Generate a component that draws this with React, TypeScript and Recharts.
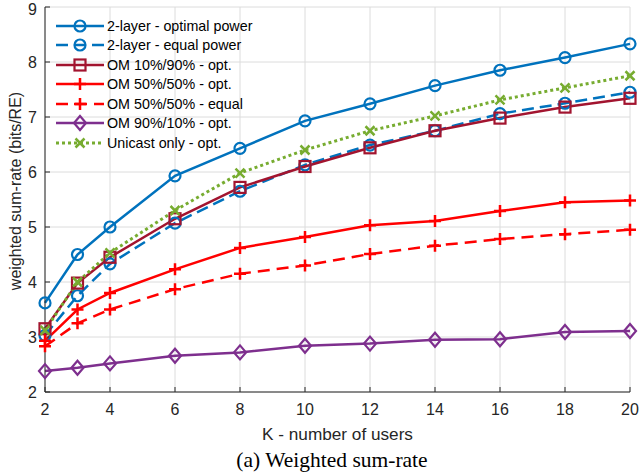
import React from 'react';
import { LineChart, Line, XAxis, YAxis, CartesianGrid, Legend } from 'recharts';

const K = [2, 3, 4, 6, 8, 10, 12, 14, 16, 18, 20];
const X_TICKS = [2, 4, 6, 8, 10, 12, 14, 16, 18, 20];
const Y_TICKS = [2, 3, 4, 5, 6, 7, 8, 9];

const twoLayerOpt = [3.62, 4.5, 5.0, 5.93, 6.43, 6.93, 7.24, 7.57, 7.85, 8.08, 8.33];
const twoLayerEq = [3.03, 3.75, 4.33, 5.07, 5.65, 6.13, 6.49, 6.75, 7.06, 7.25, 7.45];
const om1090 = [3.15, 3.98, 4.45, 5.15, 5.72, 6.1, 6.44, 6.75, 6.98, 7.18, 7.34];
const om5050opt = [2.93, 3.5, 3.8, 4.23, 4.62, 4.82, 5.03, 5.11, 5.29, 5.45, 5.48];
const om5050eq = [2.83, 3.25, 3.5, 3.87, 4.15, 4.3, 4.51, 4.66, 4.78, 4.87, 4.95];
const om9010 = [2.38, 2.44, 2.52, 2.66, 2.72, 2.84, 2.88, 2.95, 2.96, 3.09, 3.11];
const unicast = [3.12, 4.0, 4.53, 5.3, 5.98, 6.4, 6.75, 7.02, 7.31, 7.53, 7.75];

const data = K.map((k, i) => ({
  k,
  twoLayerOpt: twoLayerOpt[i],
  twoLayerEq: twoLayerEq[i],
  om1090: om1090[i],
  om5050opt: om5050opt[i],
  om5050eq: om5050eq[i],
  om9010: om9010[i],
  unicast: unicast[i],
}));

type Shape = 'circle' | 'square' | 'plus' | 'diamond' | 'cross';

const SERIES: { key: string; name: string; color: string; dash?: string; width: number; shape: Shape }[] = [
  { key: 'twoLayerOpt', name: '2-layer - optimal power', color: '#0072BD', width: 2.5, shape: 'circle' },
  { key: 'twoLayerEq', name: '2-layer - equal power', color: '#0072BD', dash: '12 6', width: 2.5, shape: 'circle' },
  { key: 'om1090', name: 'OM 10%/90% - opt.', color: '#A2142F', width: 2.5, shape: 'square' },
  { key: 'om5050opt', name: 'OM 50%/50% - opt.', color: '#FF0000', width: 2.5, shape: 'plus' },
  { key: 'om5050eq', name: 'OM 50%/50% - equal', color: '#FF0000', dash: '12 7', width: 2.5, shape: 'plus' },
  { key: 'om9010', name: 'OM 90%/10% - opt.', color: '#7E2F8E', width: 2.5, shape: 'diamond' },
  { key: 'unicast', name: 'Unicast only - opt.', color: '#77AC30', dash: '3 3', width: 3, shape: 'cross' },
];

const FONT = '"Liberation Sans", Arial, sans-serif';
const AXIS_COLOR = '#262626';

function Marker({ cx, cy, shape, color }: { cx: number; cy: number; shape: Shape; color: string }) {
  const sw = 2.2;
  if (shape === 'circle') return <circle cx={cx} cy={cy} r={5.5} fill="none" stroke={color} strokeWidth={sw} />;
  if (shape === 'square')
    return <rect x={cx - 5.5} y={cy - 5.5} width={11} height={11} fill="none" stroke={color} strokeWidth={sw} />;
  if (shape === 'diamond')
    return (
      <path
        d={`M${cx},${cy - 7} L${cx + 6},${cy} L${cx},${cy + 7} L${cx - 6},${cy} Z`}
        fill="none"
        stroke={color}
        strokeWidth={sw}
      />
    );
  if (shape === 'plus')
    return (
      <path
        d={`M${cx - 6},${cy} L${cx + 6},${cy} M${cx},${cy - 6} L${cx},${cy + 6}`}
        stroke={color}
        strokeWidth={2.5}
      />
    );
  return (
    <path
      d={`M${cx - 4.5},${cy - 4.5} L${cx + 4.5},${cy + 4.5} M${cx - 4.5},${cy + 4.5} L${cx + 4.5},${cy - 4.5}`}
      stroke={color}
      strokeWidth={2.5}
    />
  );
}

const makeDot = (shape: Shape, color: string) => (props: any) => {
  const { cx, cy, index } = props;
  return <Marker key={index} cx={cx} cy={cy} shape={shape} color={color} />;
};

// transparent legend box, grid shows through like the original figure
function LegendBox() {
  return (
    <div style={{ padding: '8px 4px 4px 8px', fontFamily: FONT, fontSize: 14.3, color: '#000' }}>
      {SERIES.map(s => (
        <div key={s.key} style={{ display: 'flex', alignItems: 'center', height: 19.5 }}>
          <svg width={52} height={18} style={{ marginRight: 1 }}>
            <line x1={2} y1={9} x2={50} y2={9} stroke={s.color} strokeWidth={s.width} strokeDasharray={s.dash} />
            <Marker cx={26} cy={9} shape={s.shape} color={s.color} />
          </svg>
          <span style={{ whiteSpace: 'nowrap' }}>{s.name}</span>
        </div>
      ))}
    </div>
  );
}

export default function App() {
  return (
    <div style={{ position: 'absolute', left: 0, top: 0, width: 639, height: 475, background: '#fff' }}>
      <LineChart width={639} height={475} data={data} margin={{ top: 7, right: 9, left: 0, bottom: 0 }}>
        <CartesianGrid stroke="#dcdcdc" strokeWidth={1} />
        <XAxis
          dataKey="k"
          type="number"
          domain={[2, 20]}
          ticks={X_TICKS}
          height={83}
          stroke={AXIS_COLOR}
          tickSize={-5}
          tickMargin={17}
          tick={{ fill: AXIS_COLOR, fontSize: 16, fontFamily: FONT }}
          label={
            <text x={337} y={433} textAnchor="middle" dominantBaseline="central" fill={AXIS_COLOR} fontSize={17.2} fontFamily={FONT}>
              K - number of users
            </text>
          }
        />
        <XAxis
          xAxisId="top"
          orientation="top"
          dataKey="k"
          type="number"
          domain={[2, 20]}
          ticks={X_TICKS}
          height={0}
          stroke={AXIS_COLOR}
          tickSize={-5}
          tick={false}
        />
        <YAxis
          type="number"
          domain={[2, 9]}
          ticks={Y_TICKS}
          width={45}
          stroke={AXIS_COLOR}
          tickSize={-5}
          tickMargin={13}
          tick={{ fill: AXIS_COLOR, fontSize: 16, fontFamily: FONT }}
        />
        <YAxis
          yAxisId="right"
          orientation="right"
          type="number"
          domain={[2, 9]}
          ticks={Y_TICKS}
          width={0}
          stroke={AXIS_COLOR}
          tickSize={-5}
          tick={false}
        />
        {SERIES.map(s => (
          <Line
            key={s.key}
            dataKey={s.key}
            name={s.name}
            stroke={s.color}
            strokeWidth={s.width}
            strokeDasharray={s.dash}
            dot={makeDot(s.shape, s.color)}
            activeDot={false}
            isAnimationActive={false}
          />
        ))}
        <Legend
          layout="vertical"
          align="center"
          verticalAlign="middle"
          wrapperStyle={{ left: 46, top: 8, width: 'auto', height: 'auto' }}
          content={() => <LegendBox />}
        />
      </LineChart>
      <div
        style={{
          position: 'absolute',
          left: 16,
          top: 191,
          transform: 'translate(-50%, -50%) rotate(-90deg)',
          whiteSpace: 'nowrap',
          fontFamily: FONT,
          fontSize: 16,
          lineHeight: '18px',
          color: AXIS_COLOR,
        }}
      >
        weighted sum-rate (bits/RE)
      </div>
      <div
        style={{
          position: 'absolute',
          left: 0,
          top: 447,
          width: 664,
          textAlign: 'center',
          fontFamily: '"Liberation Serif", "Times New Roman", serif',
          fontSize: 21.5,
          lineHeight: '26px',
          color: '#000',
        }}
      >
        (a) Weighted sum-rate
      </div>
    </div>
  );
}
